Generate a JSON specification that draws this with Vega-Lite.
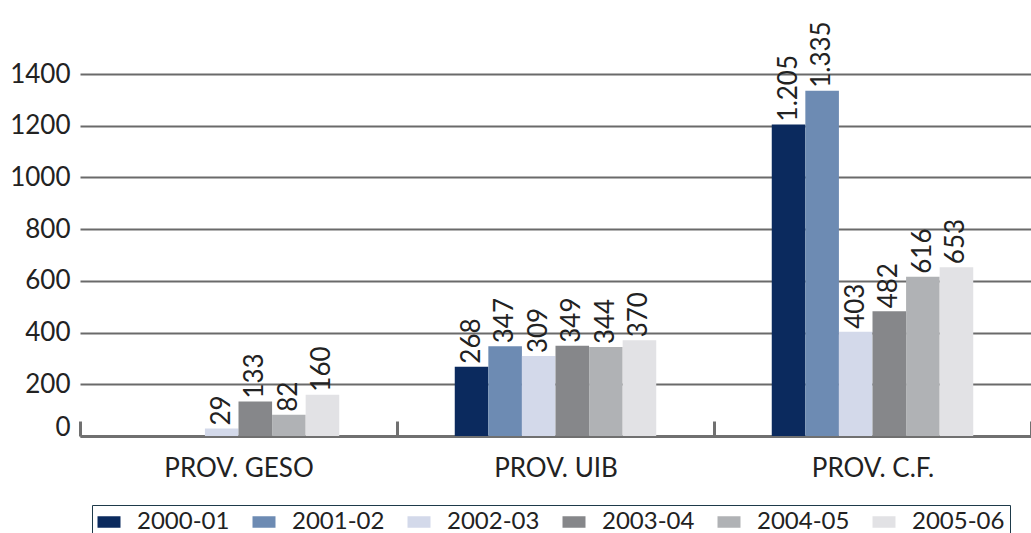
{
  "$schema": "https://vega.github.io/schema/vega-lite/v6.json",
  "autosize": "none",
  "width": 951,
  "height": 362,
  "padding": {"left": 80, "top": 74, "right": 0, "bottom": 97},
  "background": "#ffffff",
  "config": {
    "font": "Lato",
    "locale": {"number": {"decimal": ",", "thousands": ".", "grouping": [3], "currency": ["", "€"]}},
    "view": {"stroke": null}
  },
  "data": {
    "values": [
      {"grupo": "PROV. GESO", "curso": "2002-03", "valor": 29},
      {"grupo": "PROV. GESO", "curso": "2003-04", "valor": 133},
      {"grupo": "PROV. GESO", "curso": "2004-05", "valor": 82},
      {"grupo": "PROV. GESO", "curso": "2005-06", "valor": 160},
      {"grupo": "PROV. UIB", "curso": "2000-01", "valor": 268},
      {"grupo": "PROV. UIB", "curso": "2001-02", "valor": 347},
      {"grupo": "PROV. UIB", "curso": "2002-03", "valor": 309},
      {"grupo": "PROV. UIB", "curso": "2003-04", "valor": 349},
      {"grupo": "PROV. UIB", "curso": "2004-05", "valor": 344},
      {"grupo": "PROV. UIB", "curso": "2005-06", "valor": 370},
      {"grupo": "PROV. C.F.", "curso": "2000-01", "valor": 1205},
      {"grupo": "PROV. C.F.", "curso": "2001-02", "valor": 1335},
      {"grupo": "PROV. C.F.", "curso": "2002-03", "valor": 403},
      {"grupo": "PROV. C.F.", "curso": "2003-04", "valor": 482},
      {"grupo": "PROV. C.F.", "curso": "2004-05", "valor": 616},
      {"grupo": "PROV. C.F.", "curso": "2005-06", "valor": 653}
    ]
  },
  "encoding": {
    "x": {
      "field": "grupo",
      "type": "nominal",
      "sort": ["PROV. GESO", "PROV. UIB", "PROV. C.F."],
      "scale": {"paddingInner": 0, "paddingOuter": 0},
      "axis": {
        "title": null,
        "labelAngle": 0,
        "labelFontSize": 26,
        "labelColor": "#222222",
        "labelPadding": 34,
        "domainColor": "#707070",
        "domainWidth": 3,
        "tickBand": "extent",
        "tickColor": "#707070",
        "tickWidth": 3,
        "tickSize": -15
      }
    },
    "xOffset": {
      "field": "curso",
      "type": "nominal",
      "scale": {
        "domain": ["_a", "2000-01", "2001-02", "2002-03", "2003-04", "2004-05", "2005-06", "_b"],
        "paddingInner": 0,
        "paddingOuter": 0.72
      }
    },
    "y": {
      "field": "valor",
      "type": "quantitative",
      "scale": {"domain": [0, 1400], "nice": false},
      "axis": {
        "title": null,
        "values": [0, 200, 400, 600, 800, 1000, 1200, 1400],
        "format": "d",
        "labelFontSize": 26,
        "labelColor": "#222222",
        "labelPadding": 10,
        "labelOffset": {"condition": {"test": "datum.value === 0", "value": -9}, "value": 0},
        "domain": false,
        "ticks": false,
        "gridColor": "#6a6a6a",
        "gridWidth": 2
      }
    }
  },
  "layer": [
    {
      "mark": {"type": "bar"},
      "encoding": {
        "color": {
          "field": "curso",
          "type": "nominal",
          "scale": {
            "domain": ["2000-01", "2001-02", "2002-03", "2003-04", "2004-05", "2005-06"],
            "range": ["#0b2a5e", "#6d8bb3", "#d3d9ea", "#86878a", "#b0b2b5", "#e2e2e5"]
          },
          "legend": {
            "title": null,
            "orient": "none",
            "legendX": 12,
            "legendY": 431,
            "direction": "horizontal",
            "columns": 6,
            "symbolType": "M-1,-0.5H1V0.5H-1Z",
            "symbolSize": 529,
            "symbolStrokeWidth": 0,
            "labelFontSize": 24,
            "labelColor": "#222222",
            "labelOffset": 16,
            "columnPadding": 22,
            "strokeColor": "#1e3a4a",
            "padding": 5,
            "fillColor": "#ffffff"
          }
        }
      }
    },
    {
      "mark": {"type": "text", "angle": 270, "align": "left", "baseline": "middle", "dx": 3, "fontSize": 26, "color": "#222222"},
      "encoding": {
        "text": {"field": "valor", "type": "quantitative", "format": ",d"}
      }
    }
  ]
}
